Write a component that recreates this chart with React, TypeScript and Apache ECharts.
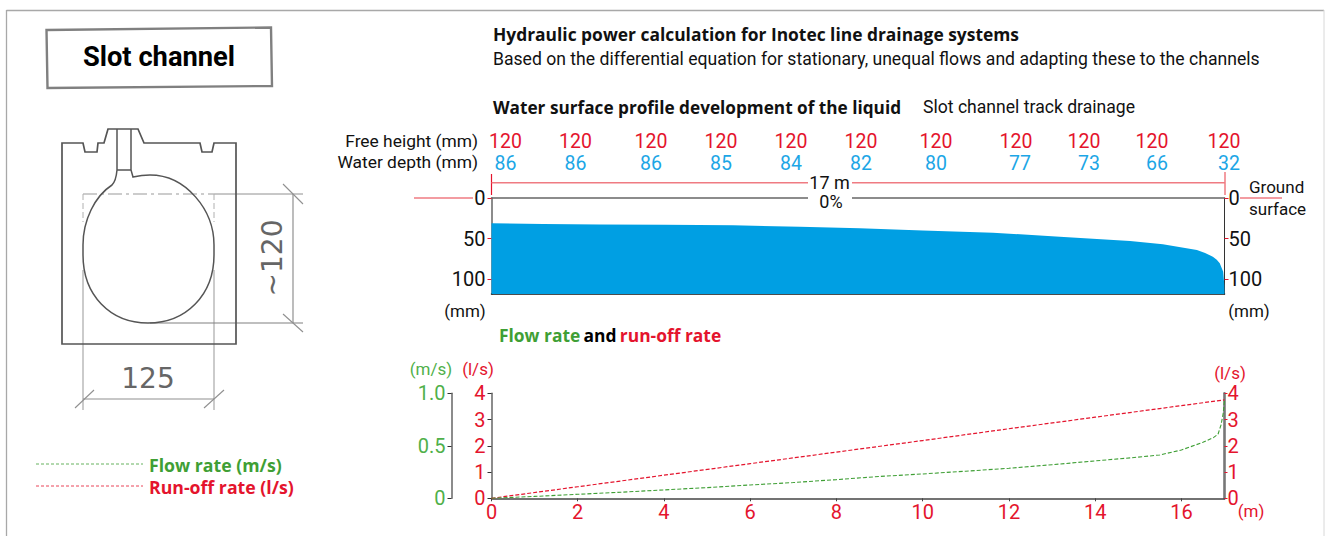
import React, { useEffect, useRef } from "react";
import * as echarts from "echarts";

const WIDTH = 1325;
const HEIGHT = 536;
const FONT = "Roboto";
const HEAD_FONT = "Open Sans";
const RED = "#e4142d";
const LIGHT_RED = "#ef7b82";
const BLUE = "#1ca6e6";
const FILL_BLUE = "#009fe3";
const GREEN = "#3f9f35";
const LABEL_GREEN = "#4fb04a";
const DIM = "#666666";

const surfaceMetres = [0, 1.2, 2.5, 4, 5.6, 7.15, 8.54, 10, 11.63, 13.18, 14.81, 15.57, 16.36, 16.55, 16.73, 16.82, 16.89, 16.97, 16.995, 17];
const surfaceDepthMm = [31, 32, 32.5, 33, 33.6, 35.3, 37.2, 39.8, 42.7, 47.6, 52.9, 57, 64, 67.5, 72.2, 76, 80.3, 90.6, 107, 118];

const distanceMetres = [0, 1, 2, 3, 4, 5, 6, 7, 8, 9, 10, 11, 12, 13, 14, 15, 15.5, 16, 16.5, 16.75, 16.85, 16.92, 16.97, 17];
const flowRate = [0, 0.018, 0.038, 0.058, 0.08, 0.102, 0.127, 0.15, 0.178, 0.208, 0.232, 0.258, 0.286, 0.32, 0.356, 0.392, 0.413, 0.46, 0.533, 0.58, 0.61, 0.7, 0.81, 0.936];
const runoffMetres = [0, 2, 4, 6, 8, 10, 12, 14, 16, 17];
const runoffRate = [0, 0.44, 0.88, 1.32, 1.76, 2.2, 2.65, 3.09, 3.53, 3.75];

const freeHeights = ["120", "120", "120", "120", "120", "120", "120", "120", "120", "120", "120"];
const waterDepths = ["86", "86", "86", "85", "84", "82", "80", "77", "73", "66", "32"];
const freeHeightX = [505.5, 575.5, 651, 721, 791, 861, 936, 1016, 1084, 1152, 1224];
const waterDepthX = [505.5, 575.5, 651, 721, 791, 861, 936, 1020, 1089, 1157, 1229];

const depthTicks = [0, 50, 100];
const distanceTicks = [0, 2, 4, 6, 8, 10, 12, 14, 16];

const CHANNEL_OUTLINE =
  "M62 344 L62 143 L83 143 L85 152 L97 152 L98 143 L104 143 L108 129 L138 129 L144 143 L200 143 L202 152 L212 152 L214 143 L236 143 L236 344 Z";
const CHANNEL_BORE =
  "M131 129 L131 170 L133 177 Q142 175 150 175 C186 175 214 210 214 245 L214 255 C214 295 186 323 148 323 C110 323 83 295 83 255 L83 245 C83 220 95 196 112 185 Q116 181 117 170 L117 129 M117 170 L131 170";
echarts.graphic.registerShape("channelOutline", echarts.graphic.extendPath(CHANNEL_OUTLINE as any, {}) as any);
echarts.graphic.registerShape("channelBore", echarts.graphic.extendPath(CHANNEL_BORE as any, {}) as any);

const txt = (text: string, x: number, y: number, o: any = {}) => ({
  type: "text",
  x,
  y,
  z: 20,
  style: {
    text,
    fontFamily: FONT,
    fontSize: o.size ?? 17.6,
    fontWeight: o.weight ?? "normal",
    fill: o.fill ?? "#111111",
    align: o.align ?? "left",
    verticalAlign: "middle",
    ...(o.style ?? {}),
  },
  ...(o.el ?? {}),
});
const seg = (x1: number, y1: number, x2: number, y2: number, stroke: string, lineWidth = 1, dash?: number[]) => ({
  type: "line",
  z: 12,
  shape: { x1, y1, x2, y2 },
  style: { stroke, lineWidth, lineDash: dash },
});

function buildGraphics() {
  const head = { fontFamily: HEAD_FONT };
  const g: any[] = [
    seg(6.5, 10.5, 1324, 10.5, "#a8a8a8", 1.3),
    seg(6.5, 10, 6.5, 536, "#a8a8a8", 1.3),
    seg(1324, 10, 1324, 536, "#d8d8d8", 1),
    {
      type: "polygon",
      z: 12,
      shape: { points: [[46.5, 30], [271, 27.5], [272, 86], [47.5, 88]] },
      style: { fill: "#fff", stroke: "#808080", lineWidth: 2.4 },
    },
    txt("Slot channel", 159, 57, { size: 27.3, weight: "bold", align: "center", fill: "#000" }),
    seg(83, 270, 83, 410, "#a0a0a0", 1.1),
    seg(214, 270, 214, 410, "#a0a0a0", 1.1),
    seg(214, 194, 303, 194, "#909090", 1),
    seg(150, 323, 303, 323, "#808080", 1.2),
    { type: "channelOutline", z: 12, style: { fill: "none", stroke: "#555555", lineWidth: 1.7 } },
    { type: "channelBore", z: 13, style: { fill: "none", stroke: "#555555", lineWidth: 1.5 } },
    seg(83, 194, 214, 194, "#999999", 1, [14, 4, 3, 4]),
    seg(83, 194, 83, 222, "#b0b0b0", 1, [6, 3]),
    seg(214, 194, 214, 222, "#b0b0b0", 1, [6, 3]),
    seg(293, 194, 293, 323, "#909090", 1.2),
    seg(283, 184, 303, 204, "#909090", 1.1),
    seg(283, 314, 303, 332, "#909090", 1.1),
    seg(83, 399, 214, 399, "#909090", 1.2),
    seg(75, 408, 94, 390, "#909090", 1.1),
    seg(204, 408, 224, 390, "#909090", 1.1),
    txt("125", 148, 378, { size: 28, align: "center", fill: "#666666", style: { fontFamily: "DejaVu Sans" } }),
    txt("~120", 0, 0, {
      size: 28,
      align: "center",
      fill: "#666666",
      style: { fontFamily: "DejaVu Sans" },
      el: { x: 272, y: 258, rotation: Math.PI / 2 },
    }),
    seg(36, 464, 143, 464, GREEN, 0.8, [3, 2]),
    seg(36, 486, 143, 486, RED, 0.8, [3, 2]),
    txt("Flow rate (m/s)", 149, 465, { weight: "bold", fill: GREEN, size: 17.7, style: head }),
    txt("Run-off rate (l/s)", 149, 487, { weight: "bold", fill: RED, size: 17.7, style: head }),

    txt("Hydraulic power calculation for Inotec line drainage systems", 493, 34, { weight: "bold", size: 17.4, style: head }),
    txt("Based on the differential equation for stationary, unequal flows and adapting these to the channels", 493, 59),
    txt("Water surface profile development of the liquid", 493, 107, { weight: "bold", size: 17.2, style: head }),
    txt("Slot channel track drainage", 923, 107),
    txt("Free height (mm)", 478, 141, { align: "right", size: 17.4 }),
    txt("Water depth (mm)", 478, 162, { align: "right", size: 17.4 }),

    seg(491.5, 174, 491.5, 195, RED, 1.2),
    seg(1225, 172, 1225, 195, LIGHT_RED, 1.5),
    seg(491.5, 182.7, 808, 182.7, LIGHT_RED, 1.5),
    seg(852, 182.7, 1225, 182.7, LIGHT_RED, 1.5),
    txt("17 m", 829.5, 182, { size: 18, align: "center" }),
    { type: "rect", z: 15, shape: { x: 808, y: 194, width: 44, height: 8 }, style: { fill: "#fff" } },
    txt("0%", 831, 201.5, { size: 18, align: "center" }),
    seg(414, 198, 473, 198, LIGHT_RED, 1.4),
    seg(1240, 198, 1282, 198, LIGHT_RED, 1.4),
    txt("Ground", 1249, 187, { size: 17 }),
    txt("surface", 1249, 209, { size: 17 }),
    txt("(mm)", 465, 311, { size: 17, align: "center" }),
    txt("(mm)", 1249, 311, { size: 17, align: "center" }),
    {
      type: "text",
      x: 499,
      y: 335,
      z: 20,
      style: {
        text: "{g|Flow rate} {k|and} {r|run-off rate}",
        verticalAlign: "middle",
        rich: {
          g: { fill: GREEN, fontFamily: HEAD_FONT, fontWeight: "bold", fontSize: 17.4 },
          k: { fill: "#000", fontFamily: HEAD_FONT, fontWeight: "bold", fontSize: 17.4 },
          r: { fill: RED, fontFamily: HEAD_FONT, fontWeight: "bold", fontSize: 17.4 },
        },
      },
    },
    txt("(m/s)", 431, 369, { size: 17, align: "center", fill: LABEL_GREEN }),
    txt("(l/s)", 478, 369, { size: 17, align: "center", fill: RED }),
    txt("(l/s)", 1230, 373, { size: 17, align: "center", fill: RED }),
    txt("(m)", 1251, 511, { size: 17, align: "center", fill: RED }),
  ];
  freeHeights.forEach((v, i) => g.push(txt(v, freeHeightX[i], 141.5, { size: 19.5, align: "center", fill: RED })));
  waterDepths.forEach((v, i) => g.push(txt(v, waterDepthX[i], 163, { size: 19.5, align: "center", fill: BLUE })));
  return g;
}

const zip = (xs: number[], ys: number[]) => xs.map((x, i) => [x, ys[i]]);

function buildOption(): any {
  const blackLabel = { fontFamily: FONT, fontSize: 20, color: "#111" };
  const redLabel = { fontFamily: FONT, fontSize: 20, color: RED };
  const greenLabel = { fontFamily: FONT, fontSize: 20, color: LABEL_GREEN };
  return {
    animation: false,
    backgroundColor: "#fff",
    grid: [
      { left: 491.5, top: 198, width: 733, height: 96 },
      { left: 491.5, top: 393.3, width: 733, height: 105 },
    ],
    xAxis: [
      {
        type: "value", gridIndex: 0, min: 0, max: 17, position: "bottom",
        splitLine: { show: false }, axisTick: { show: false }, axisLabel: { show: false },
        axisLine: { show: true, onZero: false, lineStyle: { color: "#111", width: 1.5 } },
      },
      {
        type: "value", gridIndex: 0, min: 0, max: 17, position: "top",
        splitLine: { show: false }, axisTick: { show: false }, axisLabel: { show: false },
        axisLine: { show: true, onZero: false, lineStyle: { color: DIM, width: 1.5 } },
      },
      {
        type: "value", gridIndex: 1, min: 0, max: 17, position: "bottom",
        splitLine: { show: false },
        axisTick: { show: true, length: 3, customValues: distanceTicks, lineStyle: { color: "#444" } },
        axisLabel: { ...redLabel, margin: 4, customValues: distanceTicks },
        axisLine: { show: true, onZero: false, lineStyle: { color: "#444", width: 1.5 } },
      },
    ],
    yAxis: [
      {
        type: "value", gridIndex: 0, min: 0, max: 118, inverse: true, position: "left",
        splitLine: { show: false },
        axisLine: { show: true, onZero: false, lineStyle: { color: DIM, width: 1.5 } },
        axisTick: { show: true, length: 4, customValues: depthTicks, lineStyle: { color: RED } },
        axisLabel: { ...blackLabel, margin: 6, customValues: depthTicks },
      },
      {
        type: "value", gridIndex: 0, min: 0, max: 118, inverse: true, position: "right",
        splitLine: { show: false },
        axisLine: { show: true, onZero: false, lineStyle: { color: "#333", width: 1 } },
        axisTick: { show: true, length: 4, customValues: depthTicks, lineStyle: { color: RED } },
        axisLabel: { ...blackLabel, margin: 4, customValues: depthTicks },
      },
      {
        type: "value", gridIndex: 1, min: 0, max: 4, interval: 1, position: "left",
        splitLine: { show: false },
        axisLine: { show: true, onZero: false, lineStyle: { color: DIM, width: 1.5 } },
        axisTick: { show: true, length: 4, lineStyle: { color: "#333" } },
        axisLabel: { ...redLabel, margin: 6 },
      },
      {
        type: "value", gridIndex: 1, min: 0, max: 1, interval: 0.5, position: "left", offset: 40,
        splitLine: { show: false },
        axisLine: { show: true, onZero: false, lineStyle: { color: DIM, width: 1.5 } },
        axisTick: { show: true, length: 4, lineStyle: { color: "#333" } },
        axisLabel: { ...greenLabel, margin: 6, formatter: (v: number) => (v === 0 ? "0" : v.toFixed(1)) },
      },
      {
        type: "value", gridIndex: 1, min: 0, max: 4, interval: 1, position: "right",
        splitLine: { show: false },
        axisLine: { show: true, onZero: false, lineStyle: { color: "#777", width: 2.6 } },
        axisTick: { show: true, length: 3, lineStyle: { color: RED } },
        axisLabel: { ...redLabel, margin: 3 },
      },
    ],
    series: [
      {
        name: "Water surface", type: "line", xAxisIndex: 0, yAxisIndex: 0,
        data: zip(surfaceMetres, surfaceDepthMm), smooth: false, symbol: "none",
        lineStyle: { width: 0 }, areaStyle: { color: FILL_BLUE, origin: "end", opacity: 1 },
      },
      {
        name: "Run-off rate", type: "line", xAxisIndex: 2, yAxisIndex: 2,
        data: zip(runoffMetres, runoffRate), symbol: "none", z: 5,
        lineStyle: { color: RED, width: 1.2, type: [4, 2] },
      },
      {
        name: "Flow rate", type: "line", xAxisIndex: 2, yAxisIndex: 3,
        data: zip(distanceMetres, flowRate), symbol: "none", z: 6,
        lineStyle: { color: GREEN, width: 1.1, type: [4, 2] },
      },
    ],
    graphic: { elements: buildGraphics() },
  };
}

export default function App() {
  const ref = useRef<HTMLDivElement>(null);
  useEffect(() => {
    document.body.style.margin = "0";
    const chart = echarts.init(ref.current!, undefined, { renderer: "svg", width: WIDTH, height: HEIGHT });
    chart.setOption(buildOption());
    return () => chart.dispose();
  }, []);
  return <div ref={ref} style={{ width: WIDTH, height: HEIGHT }} />;
}
